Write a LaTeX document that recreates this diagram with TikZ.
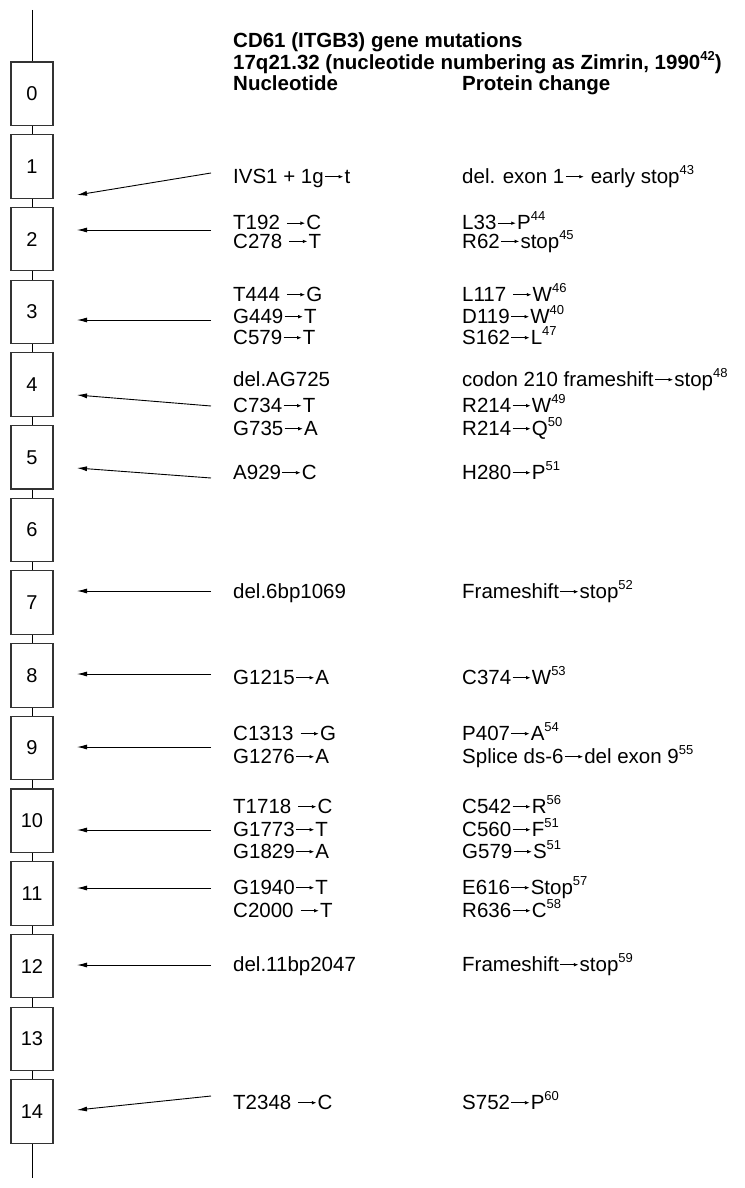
\documentclass[tikz,border=0pt]{standalone}
\usepackage{fontspec}
\setmainfont{Liberation Sans}
\usetikzlibrary{arrows.meta}
\newcommand\myar{\kern1pt\tikz[baseline=0pt,x=1pt,y=1pt]\draw[line width=0.7pt,-{Latex[length=4.5pt,width=3.6pt]}] (0,6.6)--(18,6.6);\kern1pt}
\newcommand\sups[1]{\raisebox{9pt}{\fontsize{13}{14}\selectfont #1}}
\begin{document}
\begin{tikzpicture}[x=1pt,y=-1pt,
  exon/.style={draw=black!80, line width=1.1pt, fill=white, minimum width=42pt,
    minimum height=63.5pt, inner sep=0pt, font=\fontsize{20}{22}\selectfont},
  txt/.style={anchor=base west, inner sep=0pt, font=\fontsize{20.5}{22}\selectfont},
  hd/.style={anchor=base west, inner sep=0pt, font=\fontsize{20.5}{22}\selectfont\bfseries},
  mut/.style={-{Latex[length=10pt,width=5pt]}, line width=0.9pt},
  chrom/.style={line width=1pt}]
\useasboundingbox (0,0) rectangle (744,1188);
% chromosome
\coordinate (top) at (32,10);
\coordinate (bot) at (32,1178);
\foreach \k in {0,...,14} {
  \node[exon] (b\k) at (32,{93.75+72.7*\k}) {\raisebox{-2.5pt}{\k}};
}
\draw[chrom] (top) -- (b0);
\foreach \k in {0,...,13} {
  \pgfmathtruncatemacro\nx{\k+1}
  \draw[chrom] (b\k) -- (b\nx);
}
\draw[chrom] (b14) -- (bot);
% headings
\node[hd] (title1) at (233,47.3) {CD61 (ITGB3) gene mutations};
\node[hd] (title2) at (233,69.3) {17q21.32 (nucleotide numbering as Zimrin, 1990\sups{42})};
\node[hd] (hn) at (233,90.3) {Nucleotide};
\node[hd] (hp) at (462,90.3) {Protein change};
% rows
\node[txt] (n1) at (233,183.3) {IVS1 + 1g\myar t};
\node[txt] (p1) at (462,183.3) {del. exon 1\myar\ early stop\sups{43}};
\node[txt] (n2) at (233,229.8) {T192 \myar C};
\node[txt] (p2) at (462,229.8) {L33\myar P\sups{44}};
\node[txt] (n3) at (233,248) {C278 \myar T};
\node[txt] (p3) at (462,248) {R62\myar stop\sups{45}};
\node[txt] (n4) at (233,301.3) {T444 \myar G};
\node[txt] (p4) at (462,301.3) {L117 \myar W\sups{46}};
\node[txt] (n5) at (233,323.3) {G449\myar T};
\node[txt] (p5) at (462,323.3) {D119\myar W\sups{40}};
\node[txt] (n6) at (233,344.3) {C579\myar T};
\node[txt] (p6) at (462,344.3) {S162\myar L\sups{47}};
\node[txt] (n7) at (233,386.3) {del.AG725};
\node[txt] (p7) at (462,386.3) {codon 210 frameshift\myar stop\sups{48}};
\node[txt] (n8) at (233,412.3) {C734\myar T};
\node[txt] (p8) at (462,412.3) {R214\myar W\sups{49}};
\node[txt] (n9) at (233,435.3) {G735\myar A};
\node[txt] (p9) at (462,435.3) {R214\myar Q\sups{50}};
\node[txt] (n10) at (233,479.3) {A929\myar C};
\node[txt] (p10) at (462,479.3) {H280\myar P\sups{51}};
\node[txt] (n11) at (233,598.3) {del.6bp1069};
\node[txt] (p11) at (462,598.3) {Frameshift\myar stop\sups{52}};
\node[txt] (n12) at (233,684.3) {G1215\myar A};
\node[txt] (p12) at (462,684.3) {C374\myar W\sups{53}};
\node[txt] (n13) at (233,740.3) {C1313 \myar G};
\node[txt] (p13) at (462,740.3) {P407\myar A\sups{54}};
\node[txt] (n14) at (233,763.3) {G1276\myar A};
\node[txt] (p14) at (462,763.3) {Splice ds-6\myar del exon 9\sups{55}};
\node[txt] (n15) at (233,813.3) {T1718 \myar C};
\node[txt] (p15) at (462,813.3) {C542\myar R\sups{56}};
\node[txt] (n16) at (233,836.3) {G1773\myar T};
\node[txt] (p16) at (462,836.3) {C560\myar F\sups{51}};
\node[txt] (n17) at (233,858.3) {G1829\myar A};
\node[txt] (p17) at (462,858.3) {G579\myar S\sups{51}};
\node[txt] (n18) at (233,894.3) {G1940\myar T};
\node[txt] (p18) at (462,894.3) {E616\myar Stop\sups{57}};
\node[txt] (n19) at (233,917.3) {C2000 \myar T};
\node[txt] (p19) at (462,917.3) {R636\myar C\sups{58}};
\node[txt] (n20) at (233,971.3) {del.11bp2047};
\node[txt] (p20) at (462,971.3) {Frameshift\myar stop\sups{59}};
\node[txt] (n21) at (233,1109.3) {T2348 \myar C};
\node[txt] (p21) at (462,1109.3) {S752\myar P\sups{60}};
% mutation arrows
\coordinate (t1) at (211,173);  \coordinate (h1) at (77,195);
\coordinate (t2) at (211,230);  \coordinate (h2) at (77,230);
\coordinate (t3) at (211,320);  \coordinate (h3) at (77,320);
\coordinate (t4) at (211,406);  \coordinate (h4) at (77,395);
\coordinate (t5) at (211,478);  \coordinate (h5) at (77,468);
\coordinate (t7) at (211,591);  \coordinate (h7) at (77,591);
\coordinate (t8) at (211,674);  \coordinate (h8) at (77,674);
\coordinate (t9) at (211,747);  \coordinate (h9) at (77,747);
\coordinate (t10) at (211,830); \coordinate (h10) at (77,830);
\coordinate (t11) at (211,888); \coordinate (h11) at (77,888);
\coordinate (t12) at (211,965); \coordinate (h12) at (77,965);
\coordinate (t14) at (211,1096); \coordinate (h14) at (77,1110);
\foreach \a in {1,2,3,4,5,7,8,9,10,11,12,14} {
  \draw[mut] (t\a) -- (h\a);
}
\end{tikzpicture}
\end{document}
